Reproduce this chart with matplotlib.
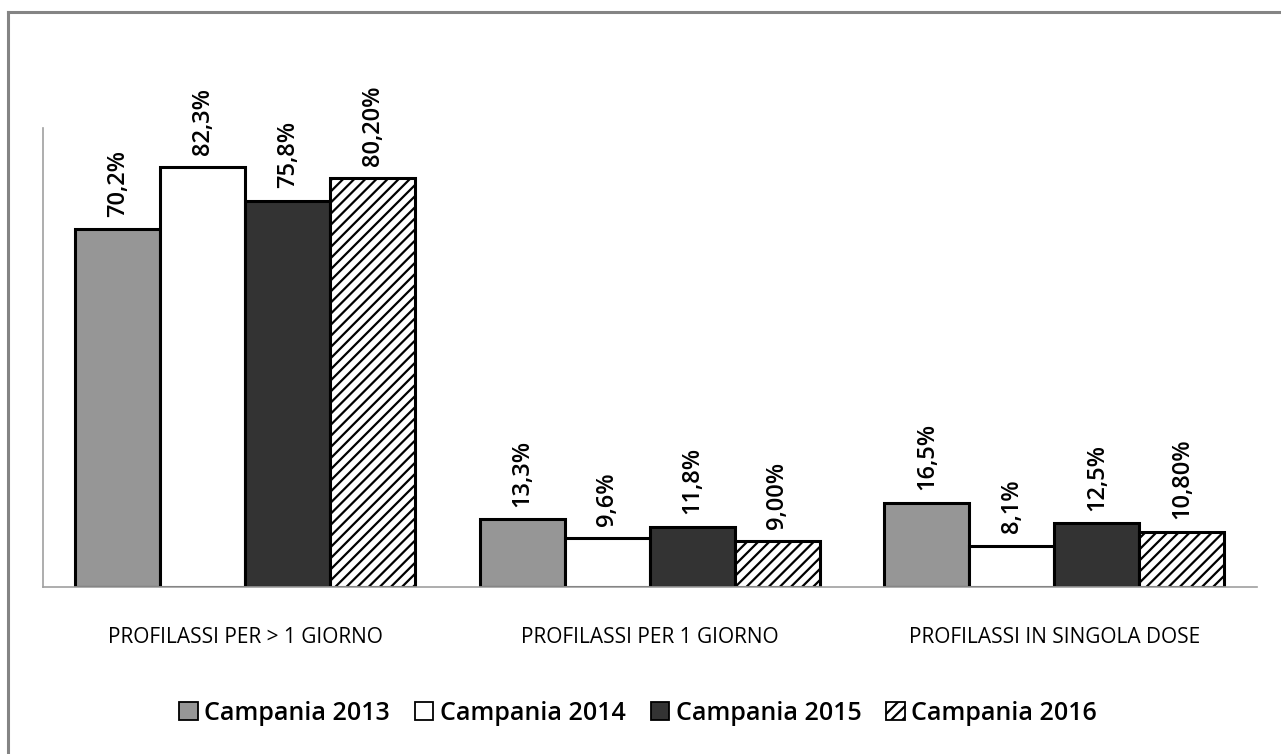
import numpy as np
import matplotlib.pyplot as plt
from matplotlib.lines import Line2D
from matplotlib.patches import Patch

categories = ['PROFILASSI PER > 1 GIORNO', 'PROFILASSI PER 1 GIORNO',
              'PROFILASSI IN SINGOLA DOSE']
series = ['Campania 2013', 'Campania 2014', 'Campania 2015', 'Campania 2016']
v2013 = [70.2, 13.3, 16.5]
v2014 = [82.3, 9.6, 8.1]
v2015 = [75.8, 11.8, 12.5]
v2016 = [80.2, 9.0, 10.8]
lab2013 = ['70,2%', '13,3%', '16,5%']
lab2014 = ['82,3%', '9,6%', '8,1%']
lab2015 = ['75,8%', '11,8%', '12,5%']
lab2016 = ['80,20%', '9,00%', '10,80%']

plt.rcParams['font.family'] = ['Open Sans', 'DejaVu Sans']
plt.rcParams['hatch.linewidth'] = 1.6

fig = plt.figure(figsize=(12.81, 7.54), dpi=100)
ax = fig.add_axes([0.0336, 0.2215, 0.9474, 0.6085])

# outer frame (only left and top visible)
fig.add_artist(Line2D([8 / 1281, 8 / 1281], [0, 1 - 12 / 754],
                      transform=fig.transFigure, color='#848484', lw=2.2))
fig.add_artist(Line2D([8 / 1281, 1], [1 - 12 / 754, 1 - 12 / 754],
                      transform=fig.transFigure, color='#848484', lw=2.2))

x = np.arange(len(categories))
w = 0.21
styles = [
    dict(facecolor='#969696'),
    dict(facecolor='white'),
    dict(facecolor='#333333'),
    dict(facecolor='white', hatch='///'),
]
values = [v2013, v2014, v2015, v2016]
labels = [lab2013, lab2014, lab2015, lab2016]

handles = []
for i, (vals, labs, st) in enumerate(zip(values, labels, styles)):
    pos = x + (i - 1.5) * w
    ax.bar(pos, vals, width=w, edgecolor='black', linewidth=2.2, **st)
    for p, v, t in zip(pos, vals, labs):
        ax.annotate(t, (p, v), xytext=(0, 9), textcoords='offset points',
                    rotation=90, ha='center', va='bottom', fontsize=17,
                    fontweight='semibold')
    handles.append(Patch(edgecolor='black', linewidth=1.3, **st))

ax.set_xlim(-0.5, 2.5)
ax.set_ylim(0, 90)
ax.set_xticks(x)
ax.set_xticklabels(categories, fontsize=15)
ax.tick_params(axis='x', length=0, pad=29)
ax.set_yticks([])
for s in ['top', 'right']:
    ax.spines[s].set_visible(False)
ax.spines['left'].set_color('#a0a0a0')
ax.spines['bottom'].set_color('#a0a0a0')
ax.spines['left'].set_linewidth(1.2)
ax.spines['bottom'].set_linewidth(1.2)

fig.legend(handles, series, loc='center', bbox_to_anchor=(0.498, 1 - 713 / 754),
           ncol=4, frameon=False, handlelength=0.75,
           handleheight=0.75, handletextpad=0.25, columnspacing=1.0,
           prop={'weight': 'semibold', 'size': 18})

fig.savefig('out.png', dpi=100)
